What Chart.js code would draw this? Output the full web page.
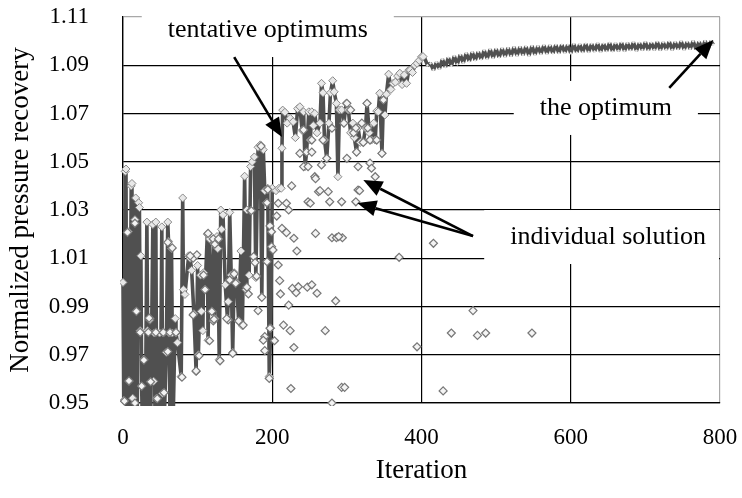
<!DOCTYPE html>
<html>
<head>
<meta charset="utf-8">
<script src="https://cdn.jsdelivr.net/npm/chart.js@4"></script>
<style>
  body { margin: 0; background: #fff; }
  canvas { display: block; }
</style>
</head>
<body>
<canvas id="gaChart" width="742" height="498"></canvas>
<script>
//Axis ticks
const xTicks = [0, 200, 400, 600, 800];
const yTicks = [0.95, 0.97, 0.99, 1.01, 1.03, 1.05, 1.07, 1.09, 1.11];

//Path of the tentative optimum, iteration 0-200 (values under 0.95 run off the bottom)
const earlyPath = [[0,1.000],[1,0.951],[3,1.046],[4,1.047],[5,0.940],[7,1.021],[8,0.959],[9,0.940],[11,1.040],[12,1.041],
  [13,0.952],[14,0.940],[16,1.026],[17,1.035],[18,0.988],[19,0.940],[21,1.033],[22,1.031],[23,0.980],[24,1.011],[25,0.957],
  [26,0.940],[28,0.968],[30,0.940],[32,1.025],[33,0.980],[34,0.940],[36,0.985],[37,0.940],[40,1.024],[41,0.959],[42,0.979],
  [43,0.940],[44,1.025],[45,0.952],[46,0.940],[49,0.979],[50,0.940],[52,1.023],[53,0.954],[54,0.979],[55,0.940],[58,0.971],
  [60,1.025],[61,1.017],[62,0.979],[63,0.940],[65,1.014],[66,0.979],[67,0.940],[70,0.985],[71,0.979],[73,0.975],[78,0.961],
  [80,1.035],[81,0.997],[83,0.995],[88,1.011],[90,1.010],[92,1.005],[95,0.987],[98,0.963],[100,1.007],[101,0.970],[104,1.003],
  [105,0.988],[107,0.980],[108,1.004],[110,0.997],[113,1.020],[114,0.976],[116,1.018],[119,0.988],[122,1.016],[123,0.985],
  [126,1.019],[127,1.014],[129,0.968],[131,1.030],[132,1.022],[134,1.028],[137,0.999],[140,0.985],[141,0.992],[143,1.029],
  [145,1.003],[147,0.971],[149,1.004],[152,1.000],[155,0.984],[158,1.013],[160,0.982],[163,1.044],[165,0.997],[166,1.030],
  [169,1.003],[171,1.048],[173,1.050],[176,1.052],[178,1.002],[181,1.056],[184,1.057],[186,0.994],[188,1.055],[190,1.038],
  [192,1.033],[194,1.039],[196,0.961],[198,0.981],[200,1.039]];

//Iteration 200-400
const midPath = [[205,1.038],[209,1.039],[212,1.039],[213,1.0556],[214,1.0714],[217,1.0705],[220,1.066],[224,1.068],
  [228,1.0666],[231,1.060],[234,1.072],[237,1.0728],[240,1.063],[242,1.0707],[244,1.048],[246,1.054],[249,1.0707],[251,1.059],
  [253,1.0707],[255,1.065],[257,1.070],[260,1.062],[264,1.066],[266,1.0825],[268,1.0786],[270,1.059],[273,1.0514],[276,1.066],
  [278,1.0786],[281,1.0836],[283,1.079],[286,1.0742],[288,1.0438],[290,1.0715],[293,1.0715],[296,1.066],[299,1.0742],
  [302,1.0715],[305,1.062],[308,1.066],[310,1.060],[313,1.054],[315,1.064],[318,1.058],[322,1.058],[325,1.064],[327,1.0742],
  [330,1.062],[333,1.059],[336,1.066],[338,1.059],[340,1.071],[342,1.0707],[344,1.0784],[347,1.0535],[349,1.0756],[351,1.0694],
  [353,1.078],[356,1.0863],[359,1.080],[362,1.0825],[365,1.083],[368,1.0855],[371,1.0867],[374,1.082],[377,1.086],[380,1.0825],
  [383,1.088],[385,1.088],[388,1.087],[391,1.090],[394,1.0908],[397,1.092],[400,1.0935],[402,1.0936]];

//Iteration 400-800, converging band
const latePath = [[404,1.0932],[408,1.0900],[412,1.0908],[416,1.0880],[420,1.0912],[424,1.0886],[428,1.0925],[432,1.0892],
  [436,1.0932],[440,1.0897],[444,1.0938],[448,1.0904],[452,1.0944],[456,1.0910],[460,1.0950],[464,1.0916],[468,1.0954],
  [472,1.0920],[476,1.0956],[480,1.0924],[484,1.0962],[488,1.0927],[492,1.0966],[496,1.0930],[500,1.0968],[504,1.0932],
  [508,1.0970],[512,1.0936],[516,1.0972],[520,1.0938],[524,1.0975],[528,1.0940],[532,1.0976],[536,1.0942],[540,1.0978],
  [544,1.0940],[548,1.0980],[552,1.0944],[556,1.0979],[560,1.0947],[564,1.0983],[568,1.0948],[572,1.0982],[576,1.0949],
  [580,1.0985],[584,1.0950],[588,1.0986],[592,1.0952],[596,1.0985],[600,1.0950],[604,1.0988],[608,1.0953],[612,1.0987],
  [616,1.0954],[620,1.0990],[624,1.0955],[628,1.0989],[632,1.0957],[636,1.0991],[640,1.0956],[644,1.0990],[648,1.0958],
  [652,1.0993],[656,1.0957],[660,1.0991],[664,1.0960],[668,1.0994],[672,1.0959],[676,1.0992],[680,1.0962],[684,1.0995],
  [688,1.0960],[692,1.0993],[696,1.0963],[700,1.0996],[704,1.0962],[708,1.0994],[712,1.0964],[716,1.0997],[720,1.0963],
  [724,1.0995],[728,1.0965],[732,1.0998],[736,1.0964],[740,1.0996],[744,1.0966],[748,1.0999],[752,1.0965],[756,1.0997],
  [760,1.0967],[764,1.1000],[768,1.0966],[772,1.0998],[776,1.0968],[780,1.1001],[784,1.0967],[788,1.1000],[791,1.0985]];

//Individual solutions off the path
const solutions = [[6,1.0207],[16,1.0245],[18,0.988],[36,0.9844],[94,1.010],[99,1.0114],[108,1.003],[110,0.997],[114,1.0203],
  [121,1.018],[128,1.018],[123,1.0158],[143,1.001],[149,1.0035],[151,0.9996],[141,0.9844],[119,0.988],[121,0.984],[94,0.9865],
  [168,0.9952],[175,1.0107],[177,1.0082],[179,1.0026],[166,0.998],[181,0.9883],[186,0.9938],[161,0.9823],[171,1.0297],
  [122,0.9847],[139,0.985],[155,0.984],[116,0.9758],[130,0.9675],[147,0.9706],[102,0.9696],[98,0.9633],[79,0.9607],[60,0.9713],
  [28,0.9678],[25,0.957],[55,0.9543],[46,0.9518],[37,0.9588],[8,0.9592],[2,0.9508],[16,0.950],[35,0.9852],[23,0.9793],
  [34,0.9793],[44,0.9793],[54,0.9793],[63,0.9793],[71,0.9793],[60,1.0166],[66,1.0143],[90,1.011],[193,1.033],[197,1.0234],
  [199,1.021],[199,1.0148],[201,1.0134],[193,1.0086],[197,0.981],[190,0.9775],[188,0.976],[190,0.9717],[196,0.9602],
  [194,1.0385],[172,1.0297],[185,1.0565],
  [208,1.0328],[219,1.0328],[222,1.030],[206,1.0275],[213,1.0224],[219,1.0206],[229,1.0183],[233,1.013],[208,1.0072],
  [210,1.0007],[211,0.9952],[227,0.9975],[235,0.9982],[232,0.9957],[222,0.9906],[215,0.9823],[224,0.980],[203,0.9758],
  [229,0.973],[225,0.956],[247,0.998],[248,1.0334],[226,1.040],[237,1.0535],[246,1.054],[253,1.054],[242,1.048],[248,1.048],
  [242,1.0632],[253,1.059],[268,1.059],[266,1.0487],[273,1.0514],[280,1.0639],[300,1.0514],[313,1.054],[322,1.058],[331,1.059],
  [340,1.059],[347,1.0535],[315,1.048],[331,1.0494],[333,1.0473],[338,1.0438],[312,1.0334],[315,1.0383],[293,1.0334],
  [277,1.0334],[262,1.0376],[275,1.0376],[257,1.0438],[251,1.0328],[258,1.043],[264,1.038],[317,1.038],[258,1.0203],
  [280,1.0185],[286,1.0185],[294,1.0185],[289,1.019],[416,1.0162],[370,1.0104],[253,0.999],[260,0.9955],[285,0.9923],
  [469,0.9883],[271,0.980],[440,0.979],[475,0.978],[486,0.979],[548,0.979],[394,0.9733],[293,0.9565],[297,0.9565],
  [429,0.955],[280,0.950],[300,1.0742],[327,1.0742],[349,1.0756],[296,1.066],[309,1.062],[312,1.064],[328,1.064],
  [320,1.066],[305,1.0715]];

//Annotations (data coordinates)
const notes = [
  { text: 'tentative optimums', at: [194, 1.1046] },
  { text: 'the optimum', at: [647, 1.0723] },
  { text: 'individual solution', at: [650, 1.0188] },
];
const arrows = [
  { from: [149, 1.0934], to: [213, 1.0603] },
  { from: [469, 1.0192], to: [322, 1.0424] },
  { from: [469, 1.0192], to: [314, 1.0329] },
  { from: [732, 1.0806], to: [791, 1.1005] },
];

const serif = '"Liberation Serif", "Times New Roman", serif';
Chart.defaults.font.family = serif;
Chart.defaults.color = '#000';

const toXY = (p) => ({ x: p[0], y: p[1] });

//Draw white boxes behind the labels (cuts the grid), then text and arrows on top
const notesPlugin = {
  id: 'notes',
  beforeDatasetsDraw(chart) {
    const { ctx, scales, chartArea } = chart;
    ctx.save();
    ctx.font = '26px ' + serif;
    ctx.fillStyle = '#fff';
    notes.forEach((n) => {
      const cx = scales.x.getPixelForValue(n.at[0]);
      const cy = scales.y.getPixelForValue(n.at[1]);
      const w = ctx.measureText(n.text).width + 52;
      const left = cx - w / 2;
      const right = Math.min(cx + w / 2, chartArea.right - 1);
      ctx.fillRect(left, cy - 27, right - left, 54);
    });
    ctx.restore();
  },
  afterDatasetsDraw(chart) {
    const { ctx, scales } = chart;
    ctx.save();
    ctx.font = '26px ' + serif;
    ctx.fillStyle = '#000';
    ctx.textAlign = 'center';
    ctx.textBaseline = 'middle';
    notes.forEach((n) => {
      ctx.fillText(n.text, scales.x.getPixelForValue(n.at[0]), scales.y.getPixelForValue(n.at[1]));
    });
    arrows.forEach((a) => {
      const x0 = scales.x.getPixelForValue(a.from[0]);
      const y0 = scales.y.getPixelForValue(a.from[1]);
      const x1 = scales.x.getPixelForValue(a.to[0]);
      const y1 = scales.y.getPixelForValue(a.to[1]);
      const ang = Math.atan2(y1 - y0, x1 - x0);
      const len = 19, half = 8;
      const bx = x1 - len * Math.cos(ang);
      const by = y1 - len * Math.sin(ang);
      ctx.strokeStyle = '#000';
      ctx.lineWidth = 2.6;
      ctx.beginPath();
      ctx.moveTo(x0, y0);
      ctx.lineTo(bx, by);
      ctx.stroke();
      ctx.beginPath();
      ctx.moveTo(x1, y1);
      ctx.lineTo(bx + half * Math.sin(ang), by - half * Math.cos(ang));
      ctx.lineTo(bx - half * Math.sin(ang), by + half * Math.cos(ang));
      ctx.closePath();
      ctx.fill();
    });
    ctx.restore();
  },
};

const gridColor = (edge) => (ctx) =>
  ctx.tick && Math.abs(ctx.tick.value - edge) < 1e-9 ? '#a8a8a8' : '#000';

//small light speckles in the converged band
const inBand = (ctx) => ctx.raw && ctx.raw.x > 402;
const markerSize = (ctx) => (inBand(ctx) ? 1.5 : 4);
const markerBorder = (ctx) => (inBand(ctx) ? 0 : 1);

new Chart('gaChart', {
  type: 'scatter',
  data: {
    datasets: [
      {
        //individual solutions
        data: solutions.map(toXY),
        pointStyle: 'rectRot',
        pointRadius: 4,
        pointBorderWidth: 1.2,
        pointBorderColor: '#777',
        pointBackgroundColor: '#f4f4f4',
        clip: 3,
        order: 1,
      },
      {
        //tentative optimum path
        data: [...earlyPath, ...midPath, ...latePath].map(toXY),
        showLine: true,
        tension: 0,
        borderColor: '#505050',
        borderWidth: 3.6,
        borderJoinStyle: 'bevel',
        pointStyle: 'rectRot',
        pointRadius: markerSize,
        pointBorderWidth: markerBorder,
        pointBorderColor: '#888',
        pointBackgroundColor: '#e8e8e8',
        clip: 3,
        order: 2,
      },
    ],
  },
  options: {
    responsive: false,
    animation: false,
    devicePixelRatio: 1,
    layout: { padding: { top: 17, right: 22, left: 0, bottom: 0 } },
    plugins: { legend: { display: false }, tooltip: { enabled: false } },
    scales: {
      x: {
        type: 'linear',
        min: 0,
        max: 800,
        afterBuildTicks: (scale) => { scale.ticks = xTicks.map((v) => ({ value: v })); },
        afterFit: (scale) => {
          scale.height = 95;
          scale.paddingLeft = 0;
          scale.paddingRight = 0;
        },
        ticks: { font: { size: 23 }, padding: 21, maxRotation: 0 },
        grid: { color: gridColor(800), lineWidth: 1.2, drawTicks: false },
        border: { display: true, color: '#000', width: 1.3 },
        title: { display: true, text: 'Iteration', font: { size: 27 }, padding: { top: 0, bottom: 11 } },
      },
      y: {
        min: 0.95,
        max: 1.11,
        afterBuildTicks: (scale) => { scale.ticks = yTicks.map((v) => ({ value: v })); },
        afterFit: (scale) => {
          scale.width = 123;
          scale.paddingTop = 0;
          scale.paddingBottom = 0;
        },
        ticks: { font: { size: 23 }, padding: 34, callback: (v) => v.toFixed(2) },
        grid: { color: gridColor(1.11), lineWidth: 1.2, drawTicks: false },
        border: { display: true, color: '#000', width: 1.3 },
        title: { display: true, text: 'Normalized pressure recovery', font: { size: 27 }, padding: { top: 5, bottom: 0 } },
      },
    },
  },
  plugins: [notesPlugin],
});
</script>
</body>
</html>
